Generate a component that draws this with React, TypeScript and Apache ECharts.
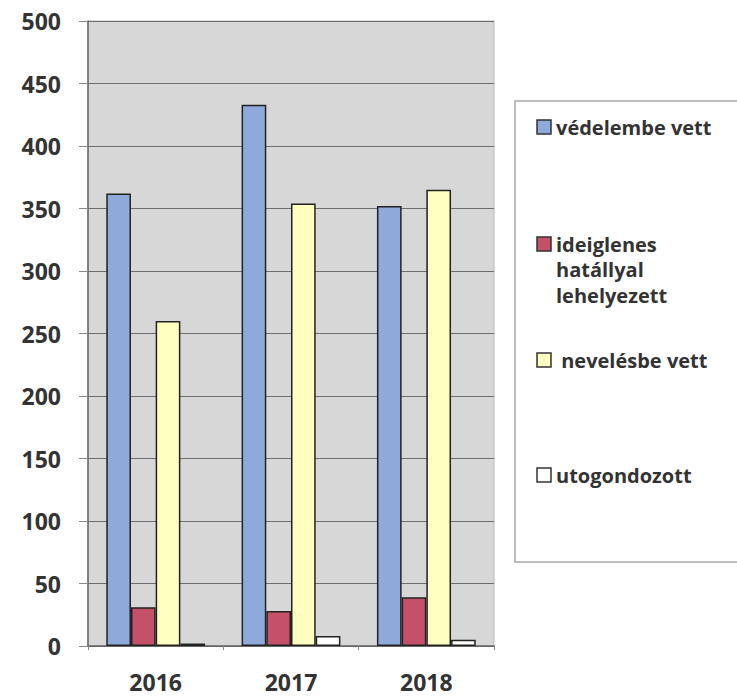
import React, { useEffect, useRef } from "react";
import * as echarts from "echarts";

const years = ["2016", "2017", "2018"];
const seriesNames = ["védelembe vett", "ideiglenes hatállyal lehelyezett", "nevelésbe vett", "utogondozott"];
const legendLines = [["védelembe vett"], ["ideiglenes", "hatállyal", "lehelyezett"], [" nevelésbe vett"], ["utogondozott"]];
const vedelembe = [362, 433, 352];
const ideiglenes = [31, 28, 39];
const nevelesbe = [260, 354, 365];
const utogondozott = [2, 8, 5];
const colors = ["#8eaadb", "#c4506a", "#ffffc0", "#ffffff"];
const yTicks = [0, 50, 100, 150, 200, 250, 300, 350, 400, 450, 500];

export default function App() {
  const ref = useRef<HTMLDivElement>(null);
  useEffect(() => {
    if (!ref.current) return;
    const chart = echarts.init(ref.current, undefined, { renderer: "svg" });
    const values = [vedelembe, ideiglenes, nevelesbe, utogondozott];
    const legendY = [127, 244, 360, 475];
    const font = "'Open Sans', sans-serif";
    const legendGraphics: any[] = [
      {
        type: "rect",
        shape: { x: 515, y: 101, width: 240, height: 461 },
        style: { fill: "#ffffff", stroke: "#a8a8a8", lineWidth: 1.5 },
        z: 0,
      },
    ];
    seriesNames.forEach((n, i) => {
      legendGraphics.push({
        type: "rect",
        shape: { x: 537, y: legendY[i] - 7, width: 14, height: 14 },
        style: { fill: colors[i], stroke: "#333", lineWidth: 1.5 },
        z: 1,
      });
      legendLines[i].forEach((line, j) => {
        legendGraphics.push({
          type: "text",
          x: 556,
          y: legendY[i] + j * 25.5,
          style: {
            text: line,
            fill: "#333",
            font: `700 20px ${font}`,
            textVerticalAlign: "middle",
          },
          z: 1,
        });
      });
    });
    chart.setOption({
      animation: false,
      backgroundColor: "#ffffff",
      grid: {
        left: 88,
        top: 21,
        right: 243,
        bottom: 51,
        show: true,
        backgroundColor: "#d7d7d7",
        borderColor: "#b8b8b8",
        borderWidth: 1,
      },
      xAxis: {
        type: "category",
        data: years,
        axisLine: { show: true, lineStyle: { color: "#666", width: 1.5 } },
        axisTick: { show: true, length: 4, lineStyle: { color: "#888" } },
        axisLabel: {
          color: "#333",
          fontFamily: font,
          fontWeight: 700,
          fontSize: 23,
          margin: 24,
        },
      },
      yAxis: {
        type: "value",
        min: 0,
        max: 500,
        interval: 50,
        axisLine: { show: true, lineStyle: { color: "#666", width: 1.5 } },
        axisTick: { show: true, length: 9, lineStyle: { color: "#888" } },
        splitLine: { show: true, lineStyle: { color: "#6e6e6e", width: 1 } },
        axisLabel: {
          color: "#333",
          fontFamily: font,
          fontWeight: 700,
          fontSize: 23,
          margin: 27,
          formatter: (v: number) => (yTicks.includes(v) ? String(v) : ""),
        },
      },
      series: seriesNames.map((n, i) => ({
        name: n,
        type: "bar",
        data: values[i],
        barGap: "0%",
        barCategoryGap: "27%",
        itemStyle: { color: colors[i], borderColor: "#222", borderWidth: 1.5 },
      })),
      graphic: legendGraphics,
    });
    return () => chart.dispose();
  }, []);
  return (
    <div
      ref={ref}
      style={{ position: "fixed", left: 0, top: 0, width: 737, height: 697 }}
    />
  );
}
